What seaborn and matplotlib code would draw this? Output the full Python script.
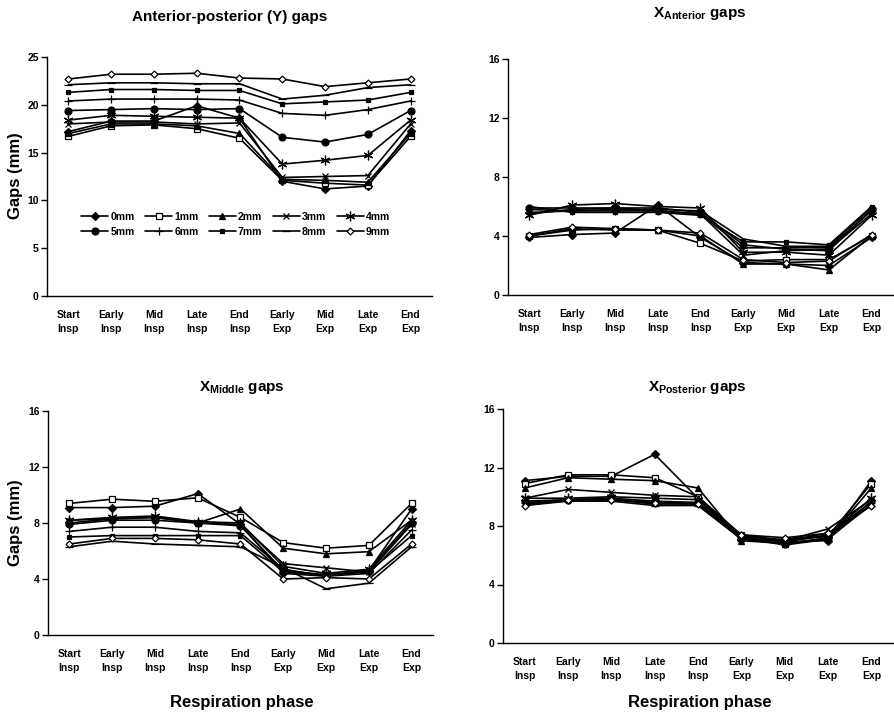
import numpy as np
import pandas as pd
import matplotlib
matplotlib.use("Agg")
import matplotlib.pyplot as plt
import seaborn as sns

phases = ["Start\nInsp", "Early\nInsp", "Mid\nInsp", "Late\nInsp", "End\nInsp",
          "Early\nExp", "Mid\nExp", "Late\nExp", "End\nExp"]
series_names = ["0mm", "1mm", "2mm", "3mm", "4mm", "5mm", "6mm", "7mm", "8mm", "9mm"]

# Anterior-posterior (Y) gaps
y_gaps = {
    "0mm": [17.2, 18.3, 18.3, 19.9, 18.6, 12.0, 11.2, 11.5, 17.3],
    "1mm": [16.7, 17.8, 17.9, 17.5, 16.5, 12.1, 11.8, 11.6, 16.7],
    "2mm": [17.0, 18.0, 18.0, 17.8, 17.0, 12.2, 12.1, 11.9, 17.0],
    "3mm": [18.0, 18.2, 18.2, 18.0, 18.1, 12.4, 12.5, 12.6, 18.0],
    "4mm": [18.4, 18.9, 18.8, 18.7, 18.6, 13.8, 14.2, 14.7, 18.4],
    "5mm": [19.4, 19.5, 19.6, 19.5, 19.6, 16.6, 16.1, 16.9, 19.4],
    "6mm": [20.4, 20.6, 20.6, 20.6, 20.5, 19.1, 18.9, 19.5, 20.4],
    "7mm": [21.3, 21.6, 21.6, 21.5, 21.5, 20.1, 20.3, 20.5, 21.3],
    "8mm": [22.1, 22.3, 22.3, 22.2, 22.2, 20.6, 21.0, 21.8, 22.1],
    "9mm": [22.7, 23.2, 23.2, 23.3, 22.8, 22.7, 21.9, 22.3, 22.7],
}

# X anterior gaps
xa_gaps = {
    "0mm": [3.9, 4.1, 4.2, 6.1, 3.9, 2.2, 2.1, 2.0, 3.9],
    "1mm": [4.0, 4.4, 4.5, 4.4, 3.5, 2.3, 2.4, 2.4, 4.0],
    "2mm": [4.0, 4.5, 4.4, 4.4, 4.0, 2.1, 2.1, 1.7, 4.0],
    "3mm": [5.5, 5.8, 5.9, 5.7, 5.5, 2.7, 3.0, 3.1, 5.5],
    "4mm": [5.4, 6.1, 6.2, 6.0, 5.9, 2.9, 2.9, 2.7, 5.4],
    "5mm": [5.9, 5.9, 5.9, 5.9, 5.6, 3.4, 3.1, 3.0, 5.8],
    "6mm": [5.8, 5.7, 5.7, 5.7, 5.5, 3.2, 3.2, 3.2, 5.7],
    "7mm": [6.0, 5.6, 5.6, 5.6, 5.4, 3.6, 3.6, 3.4, 6.0],
    "8mm": [5.6, 5.7, 5.8, 5.8, 5.7, 3.8, 3.3, 3.3, 5.9],
    "9mm": [4.1, 4.6, 4.5, 4.4, 4.2, 2.4, 2.2, 2.3, 4.1],
}

# X middle gaps
xm_gaps = {
    "0mm": [9.1, 9.1, 9.2, 10.1, 7.9, 4.4, 4.2, 4.6, 9.0],
    "1mm": [9.4, 9.7, 9.55, 9.8, 8.4, 6.6, 6.2, 6.4, 9.4],
    "2mm": [8.2, 8.3, 8.4, 8.0, 9.0, 6.2, 5.8, 5.95, 8.2],
    "3mm": [8.0, 8.3, 8.4, 8.0, 7.9, 5.1, 4.8, 4.5, 7.9],
    "4mm": [8.2, 8.4, 8.5, 8.1, 8.0, 4.9, 4.4, 4.7, 8.2],
    "5mm": [7.9, 8.2, 8.2, 8.0, 7.8, 4.6, 4.3, 4.6, 8.0],
    "6mm": [7.4, 7.7, 7.7, 7.4, 7.3, 4.7, 4.2, 4.4, 7.5],
    "7mm": [7.0, 7.1, 7.1, 7.1, 7.1, 4.5, 4.3, 4.5, 7.1],
    "8mm": [6.3, 6.7, 6.5, 6.4, 6.3, 4.8, 3.3, 3.7, 6.3],
    "9mm": [6.5, 6.9, 6.9, 6.8, 6.5, 4.0, 4.1, 4.0, 6.5],
}

# X posterior gaps
xp_gaps = {
    "0mm": [11.1, 11.4, 11.4, 12.9, 9.9, 7.3, 6.9, 7.0, 11.1],
    "1mm": [10.9, 11.5, 11.5, 11.3, 10.0, 7.4, 7.0, 7.3, 10.9],
    "2mm": [10.6, 11.3, 11.2, 11.1, 10.6, 7.0, 6.8, 7.1, 10.6],
    "3mm": [9.9, 10.5, 10.3, 10.1, 10.0, 7.3, 7.0, 7.8, 9.8],
    "4mm": [9.9, 9.9, 10.0, 9.9, 9.8, 7.2, 6.9, 7.4, 9.9],
    "5mm": [9.7, 9.8, 9.9, 9.7, 9.6, 7.1, 6.8, 7.2, 9.7],
    "6mm": [9.6, 9.8, 9.8, 9.6, 9.6, 7.4, 7.0, 7.5, 9.6],
    "7mm": [9.5, 9.8, 9.8, 9.5, 9.5, 7.2, 6.7, 7.1, 9.5],
    "8mm": [9.4, 9.7, 9.7, 9.4, 9.4, 7.1, 7.1, 7.3, 9.4],
    "9mm": [9.4, 9.8, 9.8, 9.6, 9.5, 7.4, 7.2, 7.5, 9.4],
}

sns.set_style("white")
plt.rcParams["font.family"] = ["Liberation Sans", "DejaVu Sans"]
plt.rcParams["mathtext.fontset"] = "custom"
plt.rcParams["mathtext.rm"] = "Liberation Sans:bold"
plt.rcParams["mathtext.bf"] = "Liberation Sans:bold"
plt.rcParams["mathtext.it"] = "Liberation Sans:bold"
for k in ["text.color", "axes.labelcolor", "xtick.color", "ytick.color", "axes.edgecolor"]:
    plt.rcParams[k] = "black"

styles = {
    "0mm": dict(marker="D", ms=4, mfc="black"),
    "1mm": dict(marker="s", ms=4.5, mfc="white"),
    "2mm": dict(marker="^", ms=5, mfc="black"),
    "3mm": dict(marker="x", ms=5, mfc="black"),
    "4mm": dict(marker=(6, 2, 0), ms=7, mfc="black"),
    "5mm": dict(marker="o", ms=5, mfc="black"),
    "6mm": dict(marker="+", ms=6, mfc="black"),
    "7mm": dict(marker="s", ms=3.5, mfc="black"),
    "8mm": dict(marker="_", ms=6, mfc="black"),
    "9mm": dict(marker="D", ms=3.5, mfc="white"),
}

fig = plt.figure(figsize=(8.95, 7.18), dpi=100)
W, H = 895.0, 718.0

def ax_at(l, t, r, b):
    return fig.add_axes([l / W, 1 - b / H, (r - l) / W, (b - t) / H])

panels = [
    (ax_at(47, 57, 432, 296), y_gaps, 25, [0, 5, 10, 15, 20, 25]),
    (ax_at(508, 59, 893, 295), xa_gaps, 16, [0, 4, 8, 12, 16]),
    (ax_at(48, 411, 433, 635), xm_gaps, 16, [0, 4, 8, 12, 16]),
    (ax_at(503, 409, 893, 643), xp_gaps, 16, [0, 4, 8, 12, 16]),
]

xpos = np.arange(len(phases))
for ax, data, ymax, yt in panels:
    for name in series_names:
        st = styles[name]
        df = pd.DataFrame({"x": xpos, "y": data[name]})
        sns.lineplot(data=df, x="x", y="y", ax=ax, color="black", linewidth=1.2,
                     marker=st["marker"], markersize=st["ms"],
                     markerfacecolor=st["mfc"], markeredgecolor="black",
                     markeredgewidth=0.9, label=name, legend=False)
    ax.set_xlim(-0.5, 8.5)
    ax.set_ylim(0, ymax)
    ax.set_yticks(yt)
    ax.set_yticklabels([str(v) for v in yt], fontsize=7.5, fontweight="bold")
    ax.set_xticks(xpos)
    ax.set_xticklabels(phases, fontsize=7.5, fontweight="bold", linespacing=1.5)
    ax.set_xticks(np.arange(-0.5, 9.0, 1.0), minor=True)
    ax.tick_params(axis="x", which="major", length=0, pad=10)
    ax.tick_params(axis="x", which="minor", length=4, width=1, direction="out", color="black")
    ax.tick_params(axis="y", length=4, width=1, direction="out", color="black", left=True, pad=2)
    ax.set_xlabel("")
    ax.set_ylabel("")
    for s in ["top", "right"]:
        ax.spines[s].set_visible(False)
    for s in ["left", "bottom"]:
        ax.spines[s].set_color("black")
        ax.spines[s].set_linewidth(1.0)
    ax.grid(False)

# legend in first panel (row-wise order like reference)
ax0 = panels[0][0]
handles, labels = ax0.get_legend_handles_labels()
hmap = dict(zip(labels, handles))
order = ["0mm", "5mm", "1mm", "6mm", "2mm", "7mm", "3mm", "8mm", "4mm", "9mm"]
ax0.legend([hmap[k] for k in order], order, ncol=5, loc="center",
           bbox_to_anchor=(0.49, 0.30), frameon=False,
           prop={"size": 7.5, "weight": "bold"}, handlelength=2.6,
           handletextpad=0.2, columnspacing=1.0, labelspacing=0.5)

tkw = dict(ha="center", va="center", fontsize=11, fontweight="bold", color="black")
fig.text(230 / W, 1 - 17 / H, "Anterior-posterior (Y) gaps", **tkw)
fig.text(700 / W, 1 - 14 / H, r"X$_{\mathrm{Anterior}}$ gaps", **tkw)
fig.text(242 / W, 1 - 388 / H, r"X$_{\mathrm{Middle}}$ gaps", **tkw)
fig.text(697 / W, 1 - 387 / H, r"X$_{\mathrm{Posterior}}$ gaps", **tkw)

lkw = dict(ha="center", va="center", fontsize=12, fontweight="bold", color="black")
fig.text(16 / W, 1 - 176 / H, "Gaps (mm)", rotation=90, **lkw)
fig.text(16 / W, 1 - 523 / H, "Gaps (mm)", rotation=90, **lkw)
fig.text(242 / W, 1 - 703 / H, "Respiration phase", **lkw)
fig.text(700 / W, 1 - 703 / H, "Respiration phase", **lkw)

fig.savefig("out.png", dpi=100)
